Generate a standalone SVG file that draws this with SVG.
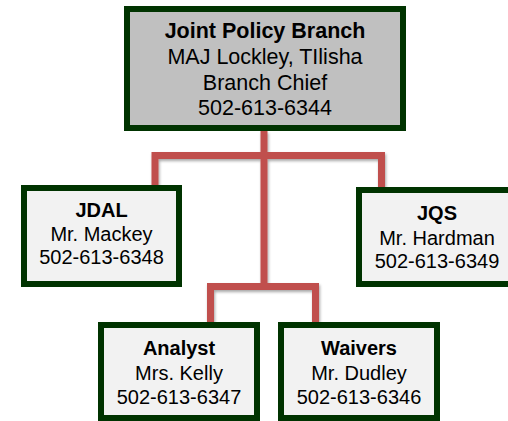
<svg xmlns="http://www.w3.org/2000/svg" width="508" height="421" viewBox="0 0 508 421">
<defs>
<filter id="sh" x="-20%" y="-20%" width="140%" height="140%">
<feGaussianBlur in="SourceAlpha" stdDeviation="1.5"/>
<feOffset dx="1" dy="2" result="b"/>
<feComponentTransfer><feFuncA type="linear" slope="0.35"/></feComponentTransfer>
<feMerge><feMergeNode/><feMergeNode in="SourceGraphic"/></feMerge>
</filter>
</defs>
<style>
.box{stroke:#003300;stroke-width:6}
.top{fill:#c0c0c0}
.sub{fill:#f2f2f2}
.conn{fill:none;stroke:#c0504d;stroke-width:7;stroke-linejoin:miter}
text{font-family:"Liberation Sans",Arial,sans-serif;fill:#000;text-anchor:middle}
.t1{font-size:21.5px}
.t2{font-size:20px}
.b{font-weight:bold}
</style>
<rect width="508" height="421" fill="#ffffff"/>
<g id="connectors" filter="url(#sh)">
<path class="conn" d="M264 131V287"/>
<path class="conn" d="M155 186V155.5H381.5V187"/>
<path class="conn" d="M210.5 322V286.5H315.5V322"/>
</g>
<g id="n-branch">
<rect class="box top" x="127" y="9" width="276" height="119"/>
<text class="t1 b" x="265" y="38">Joint Policy Branch</text>
<text class="t1" x="265" y="64">MAJ Lockley, TIlisha</text>
<text class="t1" x="265" y="90">Branch Chief</text>
<text class="t1" x="265" y="115">502-613-6344</text>
</g>
<g id="n-jdal">
<rect class="box sub" x="24" y="188" width="155" height="96"/>
<text class="t2 b" x="101.5" y="217">JDAL</text>
<text class="t2" x="101.5" y="241">Mr. Mackey</text>
<text class="t2" x="101.5" y="264">502-613-6348</text>
</g>
<g id="n-jqs">
<rect class="box sub" x="359" y="190" width="156" height="94"/>
<text class="t2 b" x="437" y="220">JQS</text>
<text class="t2" x="437" y="245">Mr. Hardman</text>
<text class="t2" x="437" y="268">502-613-6349</text>
</g>
<g id="n-analyst">
<rect class="box sub" x="101" y="325" width="156" height="93"/>
<text class="t2 b" x="179" y="355">Analyst</text>
<text class="t2" x="179" y="380">Mrs. Kelly</text>
<text class="t2" x="179" y="404">502-613-6347</text>
</g>
<g id="n-waivers">
<rect class="box sub" x="281" y="325" width="156" height="93"/>
<text class="t2 b" x="359" y="355">Waivers</text>
<text class="t2" x="359" y="380">Mr. Dudley</text>
<text class="t2" x="359" y="404">502-613-6346</text>
</g>
</svg>
